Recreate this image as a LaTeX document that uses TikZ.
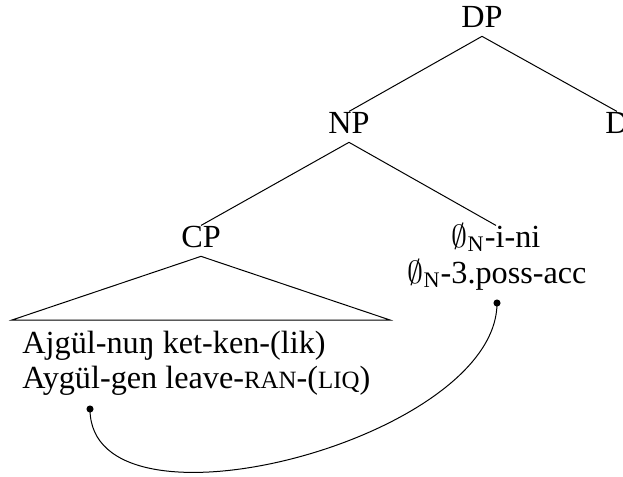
\documentclass[tikz,border=0pt]{standalone}
\usepackage{fontspec}
\setmainfont{Liberation Serif}
\usetikzlibrary{positioning}
\newcommand{\smallcapsfake}[1]{{\fontsize{11.2}{12}\selectfont #1}}
\newcommand{\nullN}{$\emptyset_{\mbox{\fontsize{10}{10}\selectfont N}}$}

\begin{document}
\begin{tikzpicture}[x=0.45pt, y=-0.45pt,
        cat/.style={anchor=base, inner sep=1.5pt, text height=0.8em, text depth=0.25em,
                    font=\fontsize{14.5}{16}\selectfont},
        words/.style={anchor=base west, inner sep=0pt, font=\fontsize{14.5}{16}\selectfont},
        branch/.style={line width=0.45pt},
        gapdot/.style={circle, fill=black, inner sep=0pt, minimum size=3.2pt},
        movement/.style={line width=0.45pt}
    ]
    \useasboundingbox (0,0) rectangle (623,476);

    % Categories
    \node[cat] (dp)    at (482,27)  {DP};
    \node[cat] (np)    at (349,133) {NP};
    \node[cat] (d)     at (617,133) {D};
    \node[cat] (cp)    at (201,247) {CP};
    \node[cat] (possA) at (496,247) {\nullN-i-ni};
    \node[cat] (possB) at (497,283) {\nullN-3.poss-acc};

    % Branches
    \draw[branch] (dp.south) -- (np.north);
    \draw[branch] (dp.south) -- (d.north);
    \draw[branch] (np.south) -- (cp.north);
    \draw[branch] (np.south) -- (possA.north);

    % Triangle over the clause
    \coordinate (triL) at (12,320);
    \coordinate (triR) at (390,320);
    \draw[branch] (cp.south) -- (triL) -- (triR) -- cycle;

    % Clause text
    \node[words] (clauseA) at (22,353) {Ajgül-nuŋ ket-ken-(lik)};
    \node[words] (clauseB) at (22,388) {Aygül-gen leave-\smallcapsfake{RAN}-(\smallcapsfake{LIQ})};

    % Dependency
    \node[gapdot] (dotL) at (90,409) {};
    \node[gapdot] (dotR) at (497,303) {};
    \draw[movement] (dotL.center) .. controls (90,545) and (497,440) .. (dotR.center);

    \end{tikzpicture}
\end{document}
